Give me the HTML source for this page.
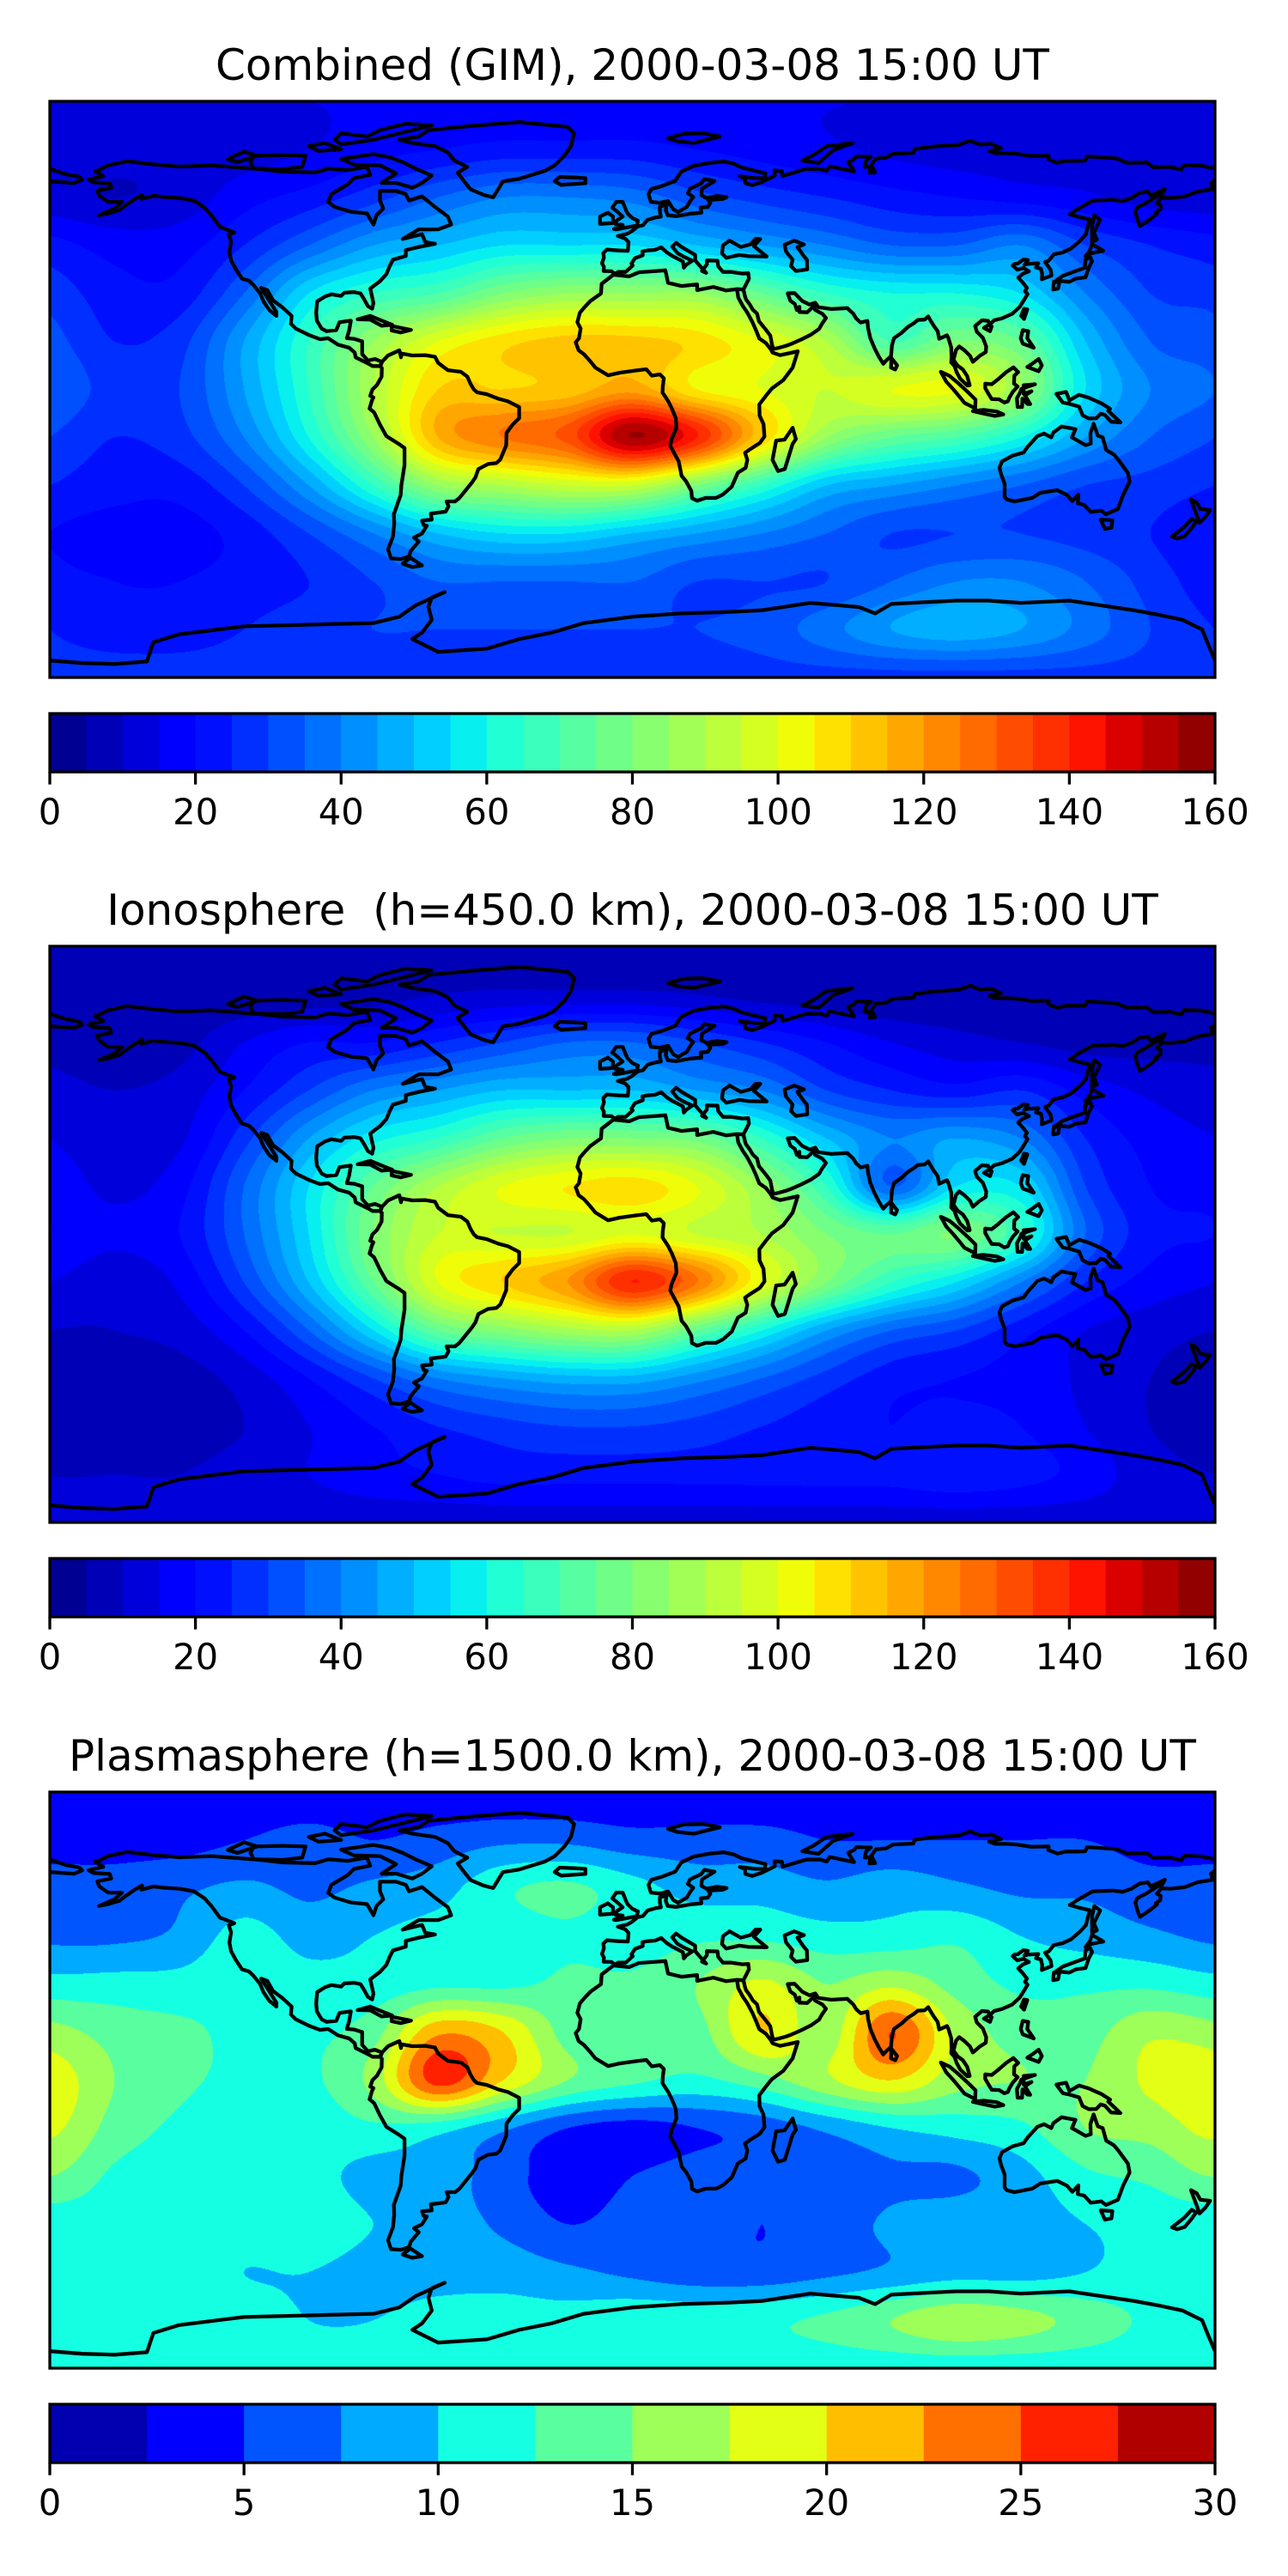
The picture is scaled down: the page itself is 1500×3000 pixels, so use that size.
<!DOCTYPE html>
<html><head><meta charset="utf-8"><title>TEC maps 2000-03-08 15:00 UT</title>
<style>
html,body{margin:0;padding:0;background:#fff;}
#root{position:relative;width:1500px;height:3000px;overflow:hidden;background:#fff;}
canvas{position:absolute;left:58px;width:1357px;height:671px;}
svg{position:absolute;left:0;top:0;}
text{font-family:"DejaVu Sans","Liberation Sans",sans-serif;fill:#000;white-space:pre;}
</style></head>
<body>
<div id="root">
<canvas id="c0" width="1357" height="671" style="top:118px"></canvas>
<canvas id="c1" width="1357" height="671" style="top:1102px"></canvas>
<canvas id="c2" width="1357" height="671" style="top:2087px"></canvas>
<svg id="ov" width="1500" height="3000" xmlns="http://www.w3.org/2000/svg">
<text x="736.5" y="93" text-anchor="middle" font-size="50">Combined (GIM), 2000-03-08 15:00 UT</text>
<text x="736.5" y="1077" text-anchor="middle" font-size="50">Ionosphere  (h=450.0 km), 2000-03-08 15:00 UT</text>
<text x="736.5" y="2062" text-anchor="middle" font-size="50">Plasmasphere (h=1500.0 km), 2000-03-08 15:00 UT</text>
</svg>
</div>
<script>
// ---- grid axes ----
const gridLons = [-180,-160,-140,-120,-100,-80,-60,-40,-20,0,20,40,60,80,100,120,140,160,180];
const gridLats = [90,75,60,45,30,15,0,-15,-30,-45,-60,-75,-90];

// ---- Combined (GIM) TECU ----
const combinedValues = [
[15,15,15,15,15,15,15,15,15,15,15,15,15,15,15,15,15,15,15],
[14,12,12,13,15,18,20,22,22,22,20,18,16,14,13,13,13,14,14],
[12,10,12,18,22,28,35,40,40,38,32,28,25,22,20,18,16,13,12],
[22,18,18,25,35,45,50,55,55,55,50,45,40,35,35,40,30,25,22],
[28,22,22,35,55,65,70,80,85,85,85,75,65,60,60,55,40,30,28],
[32,25,28,45,65,85,100,108,112,112,108,100,90,70,80,75,50,35,32],
[35,28,30,45,65,90,110,110,112,118,105,100,95,100,100,85,55,40,35],
[30,25,28,40,60,85,115,125,132,155,140,110,85,75,70,60,45,35,30],
[25,22,22,30,45,65,85,90,95,95,80,65,50,45,40,35,30,28,25],
[20,18,18,22,30,40,50,55,55,50,45,40,35,30,30,30,28,25,20],
[22,20,20,22,25,30,35,35,35,35,30,30,30,35,40,40,35,28,22],
[25,22,22,25,28,30,30,30,30,30,30,32,38,45,48,45,38,30,25],
[28,28,28,28,28,28,28,28,28,28,28,28,28,28,28,28,28,28,28]];

// ---- Ionosphere TECU ----
const ionosphereValues = [
[8,8,8,8,8,8,8,8,8,8,8,8,8,8,8,8,8,8,8],
[6,6,6,6,7,8,10,11,11,11,10,8,7,6,6,6,6,6,6],
[8,6,8,15,20,20,25,30,35,35,30,25,20,15,12,10,8,8,8],
[12,10,12,20,30,40,45,50,50,50,45,40,30,25,22,25,18,14,12],
[15,12,14,28,45,58,65,75,80,80,78,65,50,40,45,40,25,18,15],
[18,14,18,35,55,75,90,100,105,108,100,85,65,35,55,55,30,20,18],
[20,16,20,35,55,80,95,95,95,100,95,90,80,75,80,65,35,22,20],
[15,12,16,30,50,75,100,110,120,140,125,100,80,65,55,40,25,18,15],
[10,10,12,20,35,55,75,82,88,90,75,60,45,35,30,22,15,12,10],
[8,8,8,12,20,30,40,45,48,48,42,35,28,22,20,18,14,10,8],
[8,8,8,10,15,20,25,28,30,30,28,25,22,20,22,20,15,10,8],
[10,10,10,12,15,18,20,22,22,22,22,22,22,22,24,22,18,12,10],
[12,12,12,12,12,12,12,12,12,12,12,12,12,12,12,12,12,12,12]];

// ---- Plasmasphere TECU ----
const plasmasphereValues = [
[3,3,3,3,3,3,3,3,3,3,3,3,3,3,3,3,3,3,3],
[4,4,4,5,6,5,6,7,7,6,6,6,5,5,5,5,5,4,4],
[6,6,7,8,7,8,9,12,13,11,9,9,8,9,8,7,7,6,6],
[7,7,8,11,9,10,11,11,12,11,12,12,11,11,12,10,9,8,7],
[11,11,11,12,11,11,12,12,13,13,15,18,15,17,14,12,12,12,11],
[16,14,13,12,12,14,22,20,14,13,14,20,16,25,17,14,14,17,16],
[19,15,13,12,12,16,26,20,15,13,12,14,17,20,16,15,15,18,19],
[18,14,12,11,11,12,11,8,5,4,5,6,8,10,11,12,15,16,18],
[15,12,11,11,11,9,9,6,4,5,6,6,6,7,7,9,12,13,15],
[11,11,10,11,12,10,9,7,5,6,6,5,6,8,9,9,10,11,11],
[11,11,11,10,10,9,9,9,8,7,6,6,7,8,9,9,10,11,11],
[11,11,11,11,10,10,11,11,11,12,12,12,13,15,17,16,14,12,11],
[11,11,11,11,11,11,11,11,11,11,11,11,11,11,11,11,11,11,11]];

// ---- colour levels and colorbar ticks ----
const levelsGim = [0,5,10,15,20,25,30,35,40,45,50,55,60,65,70,75,80,85,90,95,100,105,110,115,120,125,130,135,140,145,150,155,160];
const levelsPlasma = [0,2.5,5,7.5,10,12.5,15,17.5,20,22.5,25,27.5,30];
const ticksGim = [0,20,40,60,80,100,120,140,160];
const ticksPlasma = [0,5,10,15,20,25,30];

// ---- coastlines [lon,lat] ----
const coastlines = [
[[-166,68],[-162,70],[-156,71.3],[-148,70.3],[-140,69.6],[-130,70],[-124,69.5],[-115,68.8],[-108,68],[-98,67.8],[-94,69],[-88,68.5],[-82,69.5],[-81,67],[-86,66],[-88,64],[-93,61],[-94,58.5],[-92,57],[-87,55.5],[-82,55],[-80,51.5],[-79,54.5],[-77,56.5],[-78,59],[-78,62],[-73,62],[-70,61],[-69,59],[-65,60.3],[-61,57],[-57,54],[-56,51.5],[-60,50],[-66,50],[-71,47],[-65,48.5],[-64,46],[-61,45.5],[-66,44.5],[-70,43.5],[-70,41.7],[-74,40.5],[-75,38.5],[-76,36],[-78,33.8],[-81,31.5],[-80,27],[-80.4,25.2],[-81.7,26],[-82.8,28],[-84,30],[-86,30.4],[-89,30.2],[-90,29.2],[-93,29.7],[-95,29],[-97.4,27.5],[-97.7,24],[-97.5,21.5],[-96,19],[-94.5,18.2],[-91.5,18.5],[-90.5,21],[-87,21.5],[-87.5,18.5],[-88.2,16],[-86,15.8],[-83.5,15],[-83.5,11],[-81.7,9],[-79.5,9.5],[-77.4,8.6],[-78,7.3],[-80.3,7.3],[-81.5,8],[-85.5,10],[-85.8,11.5],[-87.5,13],[-91,14],[-94,16],[-96.5,15.7],[-100,17],[-104,19],[-105.5,20.5],[-105.3,23],[-108,25.5],[-111,27.8],[-112.8,31],[-114.7,31.7],[-113,29],[-110,24.2],[-110,23],[-112.2,24.8],[-114,27.5],[-115,30],[-117,32.5],[-118.5,34],[-120.6,34.6],[-122.5,37.5],[-124,40.3],[-124.5,43],[-124,46.2],[-124.7,48.4],[-123,49],[-127.5,50.8],[-130,54.3],[-132.2,56.8],[-135.5,59],[-139.8,59.8],[-144.6,60.1],[-148,60.5],[-151.7,59.5],[-151.5,60.8],[-154,59.3],[-156.6,57.5],[-158.5,56],[-162,55],[-164.8,54.4],[-160,56.5],[-157.7,58.6],[-162,58.6],[-164.8,60.6],[-165.3,62.1],[-161,63],[-161.5,64.4],[-166.5,64.7],[-168,65.6],[-163.5,66.6],[-166,68.3]],
[[-72,78],[-66,79],[-63,81],[-50,82.3],[-35,83.5],[-20,82],[-18,80],[-19,76],[-21,73],[-24,70],[-27,68.3],[-35,65.8],[-40,65],[-43,60],[-46,60.8],[-50,62.5],[-52,65],[-54,67.7],[-51,69.5],[-55,71.5],[-57,74],[-61,76],[-68,77],[-72,78]],
[[-80,73.5],[-75,72.5],[-71,71],[-67,69],[-62,66.8],[-65,64.5],[-68,63],[-73,64.5],[-77.5,64.5],[-73,67.5],[-78,70],[-86,70.2],[-90,72],[-80,73.5]],
[[-118,71],[-117,73],[-108,73.2],[-101,73],[-102,69.5],[-108,68.8],[-117,69],[-118,71]],
[[-90,80],[-82,79],[-78,81],[-70,83],[-62,82.5],[-72,80],[-80,78],[-90,76.5],[-92,78],[-90,80]],
[[-125,71.9],[-120,74.3],[-116,73],[-122,71],[-125,71.9]],
[[-100,76],[-95,77],[-90,75],[-97,74.5],[-100,76]],
[[-84.9,21.9],[-81,23],[-77,21.3],[-74.2,20.2],[-77.5,19.9],[-81,21.8],[-84.9,21.9]],
[[-74.4,19.8],[-68.4,18.6],[-71.6,17.8],[-74.4,18.4],[-74.4,19.8]],
[[-77.3,8.7],[-75.5,10.6],[-72,12.2],[-71.5,10],[-71.3,11.2],[-68,10.6],[-64,10.7],[-61,10.2],[-60,8.3],[-57,6],[-53,5.5],[-51,4],[-50,1.7],[-49,0],[-48,-0.9],[-45,-1.5],[-41.5,-2.9],[-38.5,-3.7],[-35,-5.5],[-35,-9],[-37,-11],[-38.9,-13.6],[-39,-17.5],[-40.8,-21.9],[-42,-23],[-44.6,-23.3],[-47.6,-24.9],[-48.5,-27.5],[-49.5,-29],[-51.5,-31.5],[-53.5,-34],[-54.8,-35],[-57.4,-35],[-56.8,-36.5],[-57.7,-38.2],[-62.3,-38.8],[-62,-40.7],[-65,-41],[-64.5,-42.4],[-63.5,-42.6],[-65,-45],[-67.5,-46.3],[-66,-47.5],[-68.5,-50.5],[-69,-52.2],[-71.5,-53],[-74.6,-52.8],[-75.5,-50],[-74,-46],[-73.6,-42],[-73.7,-39],[-71.6,-33],[-71.4,-30],[-70.4,-23.6],[-70.4,-18.3],[-72.2,-17],[-76,-14.6],[-78,-11],[-79.8,-7.2],[-81.2,-6],[-80.5,-3.5],[-80,-2.5],[-81,-2],[-80.3,0],[-78.9,1.4],[-77.5,4],[-77.4,6.7],[-77.9,7.2],[-77.3,8.7]],
[[-68.6,-52.6],[-65,-55],[-68,-55.5],[-71,-54.5],[-68.6,-52.6]],
[[32.3,31.3],[29,30.9],[25,32],[20,31],[20,32.8],[15.2,32.3],[11,33.3],[10.2,37.2],[7.6,37],[2,36.6],[-1,35.3],[-5.9,35.8],[-9.5,33],[-9.7,30],[-13,27.6],[-14.5,26],[-16.2,24],[-17,21],[-16,19],[-16.5,16],[-17.5,14.7],[-16.6,12.2],[-15,11],[-13.2,9],[-11.4,6.8],[-7.5,4.4],[-4,5.2],[1,5.9],[4.3,6.3],[6,4.3],[8.5,4.7],[9.7,3.5],[9.4,1],[9.3,-1],[11,-3.6],[12.2,-6],[13.4,-9],[13.6,-12],[12.1,-15.6],[11.7,-17.6],[14.3,-22.5],[15.2,-27],[16.5,-28.6],[18.2,-31.7],[18.4,-34],[20,-34.8],[22.6,-33.9],[25.8,-33.9],[28,-32.8],[30.7,-30.4],[32.6,-26],[35,-24.5],[35.5,-22],[34.8,-19.8],[36.5,-18.6],[39.4,-16.7],[40.8,-14.7],[40.5,-10.8],[39.3,-8.2],[39.2,-4.7],[41.5,-1.7],[43.1,0.3],[46.6,2.9],[49.5,6.8],[51.1,11.9],[48.9,11.4],[45.6,10.7],[43.3,11.5],[42.7,12.6],[41.2,14.5],[39.2,15.9],[38.4,18],[37.1,21],[35.5,24],[34.1,26.1],[32.7,28.7],[32.3,31.3]],
[[49.5,-12],[50.5,-15.5],[49.5,-17],[47.1,-24.9],[45,-25.5],[43.3,-22],[44.4,-16],[47,-15.7],[49.5,-12]],
[[32.3,31.3],[34.3,31.2],[35.2,33],[36,34.6],[35.8,36.3],[34,36.2],[30.6,36.7],[28,36.7],[26.5,38.5],[26.3,40.2],[23,40.3],[23,39],[21.5,37],[22.8,36.4],[21.1,38.3],[19.4,40.3],[19.4,42],[15.2,44.5],[13.5,45.8],[12.3,44.6],[13.9,42.6],[16,41.4],[18.5,40.2],[16.6,38.9],[15.9,38],[15.6,40],[12.3,41.7],[10.5,42.9],[8.9,44.4],[7,43.6],[4.6,43.4],[3.1,43.1],[3.2,41.9],[0.8,41],[-0.3,39.3],[0.1,38.7],[-2.1,36.7],[-4.4,36.7],[-5.4,36.1],[-6.5,36.9],[-8.9,37],[-8.8,38.3],[-9.4,39.4],[-8.8,41.2],[-9,42.6],[-7.9,43.7],[-4.3,43.4],[-1.4,43.3],[-1.2,46],[-2.2,47.1],[-4.5,47.9],[-1.6,48.6],[-0.2,49.4],[1.6,50.9],[3.3,51.3],[4.7,53],[7.1,53.7],[8.8,54],[8.5,55.4],[8.5,57.1],[10.6,57.7],[10.3,56],[10.9,54.4],[13.6,54.1],[18,54.9],[21.3,55.2],[21.1,56.8],[23.3,57],[24.1,58.3],[23.4,59.2],[28,59.5],[29.1,60],[26.2,60.4],[22.9,59.8],[21.3,60.7],[21.5,62.7],[25.4,65.1],[22.2,65.7],[21.3,64.4],[17.8,62.7],[17.1,61.3],[18.8,60.1],[17.9,58.9],[16.8,57],[14.1,55.4],[12.6,56.3],[11,58.9],[8.4,58.3],[5.7,58.6],[5,61],[5.9,62.6],[9,63.5],[13.2,65.1],[15.1,68],[18.8,69.8],[23.6,70.7],[28.2,71.2],[31.3,70.5],[33.8,69.3],[41.1,67.5],[41,66],[38,66],[33.2,66.6],[34.8,65.9],[34.9,64.4],[37,63.8],[40,64.8],[44,66.8],[43.9,68.4],[46.2,68.2],[46.4,66.7],[53.7,68.9],[58,68.9],[60,68.3],[61,69.7],[68.5,68.1],[67.3,70],[66.7,71],[68.5,71.9],[69.2,72.8],[73.7,72.7],[72.2,71.5],[71.8,69.5],[73.6,69.6],[73.2,67.7],[75,67.8],[73.8,70.1],[75.2,72.1],[78.4,72.4],[80.5,73.6],[86.8,73.9],[87.2,75.1],[93.2,75.9],[100.8,76.4],[104.3,77.7],[107.2,76.5],[111,76.7],[113.9,75.3],[110.2,74.5],[112.1,73.8],[115.6,73.8],[118.8,73.6],[123.2,72.9],[128.6,73],[128.5,71.9],[131.3,70.8],[133.9,71.4],[137.5,71.4],[139.9,71.5],[140.5,72.8],[149.5,72.2],[152.9,70.8],[159,70.9],[160.9,69.4],[165.9,69.5],[169.6,68.7],[170.5,70.1],[175.7,69.9],[180,69]],
[[180,65.4],[178.7,64.5],[179.4,62.6],[174.6,61.8],[170.7,60.3],[166.3,59.8],[163.5,59.9],[162,58.2],[163.2,57.6],[163.1,56.2],[161.7,55.3],[162.1,54.9],[160,53.2],[158.2,51.9],[156.8,51],[156,53.2],[155.4,55.4],[155.9,56.8],[158.4,58.1],[161.9,60.3],[163.7,61.1],[164.5,62.6],[160.1,60.5],[159.3,61.8],[156.7,61.4],[154.2,59.8],[151.3,58.8],[148.5,59.2],[142.2,59],[138.9,57.1],[135.1,54.7],[138.2,53.8],[141.3,53.1],[140.5,50],[140.1,48.4],[138.2,46.3],[135.5,44],[132.9,42.8],[130.2,42.2],[128.6,40.2],[127.5,39.8],[129.2,37.4],[129.5,35.6],[126.5,34.4],[126.6,36],[126.2,37.7],[124.7,38.1],[125.4,39.4],[122.1,39.2],[121.1,38.9],[122.2,40.4],[120.8,40.6],[119,39.3],[118,39.2],[117.5,38.7],[118.9,37.4],[120.8,37.9],[122.5,36.9],[120.6,36.1],[119.2,34.9],[120.6,33.4],[121.9,31.7],[121.3,30.7],[122.1,29.8],[121.1,28.1],[119.6,25.7],[117.3,23.6],[114.2,22.2],[111.8,21.6],[110.4,20.3],[109.9,21.4],[108,21.6],[105.9,19.8],[106.4,18],[108.3,16.1],[109.3,13.4],[109.2,11.7],[107.2,10.4],[105.2,8.6],[104.3,10.5],[102.6,12.2],[100.98,13.4],[100,12.3],[99.2,9.2],[100.5,7.4],[102.1,6.2],[103.4,4.2],[103.9,2.5],[104.2,1.3],[103.5,1.2],[101.3,3.3],[100.2,5.3],[99.5,7.3],[98.5,8.4],[98.6,9.9],[98.5,13.1],[97.6,16.1],[97.2,16.9],[94.8,15.8],[94.3,18.2],[93.1,19.9],[92,21.7],[91.4,22.8],[90.3,21.8],[88.2,21.7],[87,20.7],[85.1,19.5],[83.2,17.7],[80.8,16],[80.2,13.8],[79.9,10.4],[78.3,8.9],[77.5,8],[76.1,10.3],[74.9,12.7],[73.5,16],[72.8,19.2],[72.6,21.4],[70.5,20.9],[69.2,22.1],[68.2,23.7],[67.1,24.7],[66.4,25.4],[61.5,25.1],[57.4,25.7],[56.5,27.1],[54.7,26.5],[52.5,27.6],[50.1,30.1],[48,29.98],[48.8,27.7],[50.2,26.7],[50.8,24.8],[51.6,25.8],[51.6,24.2],[54,24.1],[56.1,26.1],[56.4,24.9],[58.7,23.6],[59.8,22.3],[58.5,20.4],[57.7,18.9],[56.3,17.9],[55.3,17.2],[52.2,15.6],[49,14.2],[47.4,13.6],[45.1,12.95],[43.5,12.6],[43.1,14.1],[42.6,16.8],[41.2,18.7],[39.1,21.3],[38.5,23.7],[37.2,24.9],[36.2,26.6],[35.1,28.1],[34.8,29],[34.3,31.2]],
[[-5,50],[1.4,51.2],[1.7,52.7],[0,53.5],[-1.5,55],[-2,56],[-3,58.6],[-5,58.6],[-6.2,56.8],[-5,55.8],[-3,54],[-4.8,52.8],[-5.3,51.7],[-3,51.4],[-5.7,50.1],[-5,50]],
[[-6,52],[-6,54],[-7.6,55.2],[-10,54],[-10,51.7],[-6,52]],
[[-22,63.9],[-14.5,64.4],[-14.5,66],[-18,66.2],[-22.5,66.4],[-24,65],[-22,63.9]],
[[130.9,34],[135,33.6],[137,34.6],[140,35],[141,38],[142,40],[141.4,41.4],[140,40.5],[139.8,38],[137,37],[133,35.5],[130.9,34]],
[[140,41.6],[141.5,42.5],[144,43],[145.5,43.3],[142,45.4],[141.3,43.3],[140,41.6]],
[[130,31.2],[131.5,31.5],[131.9,33.5],[130.2,33.6],[130,31.2]],
[[142,46],[143.5,46.8],[142.6,49],[144.5,53],[142.7,54.4],[142,51],[142,46]],
[[120.1,23],[121,22],[122,25],[121,25.2],[120.1,23]],
[[108.6,19.2],[110.5,18.2],[111,19.7],[110,20.1],[108.6,19.2]],
[[120.6,18.5],[122.3,18.2],[122,16],[124,13],[122,13.8],[120.6,14.3],[120,16],[120.6,18.5]],
[[122,7],[125.5,5.7],[126.5,7.5],[125.5,9.5],[123.5,8],[122,7]],
[[95.3,5.5],[98,4.2],[100.6,2],[103.8,-1],[106,-3.2],[105.9,-5.9],[102.6,-4.2],[101,-2.2],[99,0.2],[97,2.4],[95.3,5.5]],
[[105.2,-6.8],[108.5,-6.4],[112.6,-6.9],[114.6,-7.8],[112,-8.3],[108.7,-7.6],[105.2,-6.8]],
[[109,1.8],[111,1.6],[112.9,3.1],[115.5,5.4],[117.7,6.9],[119.2,5.4],[118,4.3],[117.9,1.8],[119,0.9],[117.5,-0.8],[116.5,-2.5],[116,-3.7],[114.9,-4.1],[113.3,-3.1],[111,-3],[110.2,-1.7],[109,0.4],[109,1.8]],
[[119,-5.5],[120.4,-5.5],[120.5,-2.9],[122,-4.5],[122.9,-4.6],[121.3,-1.9],[123.3,-0.6],[120.9,-1.4],[120.9,1.3],[124.4,1.6],[120.2,0.2],[119.8,-0.9],[118.8,-2.8],[119,-5.5]],
[[131,-1.4],[134,-0.8],[135,-3.4],[138,-1.7],[141,-2.6],[145,-4.4],[147.6,-6.1],[147,-6.7],[150.8,-10.3],[147.9,-10.1],[146,-8],[144.7,-7.6],[143.3,-9],[141,-9.1],[139.1,-8.1],[138,-5.4],[135,-4.5],[133,-4.1],[132,-2.8],[131,-1.4]],
[[114.2,-22.5],[113.4,-24.4],[113.9,-26.5],[115,-29.5],[115,-33.6],[115.7,-34.4],[118,-35],[123.5,-33.9],[126,-32.3],[131.3,-31.5],[134.3,-33],[135.9,-34.9],[137.8,-32.9],[137.6,-35.6],[139.6,-36.1],[141.6,-38.3],[144.9,-37.9],[146.3,-39],[150,-37.4],[151.6,-33],[153.6,-28.9],[153.1,-26.1],[150.3,-22.2],[148.8,-20.4],[146.4,-18.9],[145.3,-15],[143.8,-14.4],[142.5,-10.7],[141.5,-13.7],[141.6,-16.9],[140,-17.4],[135.8,-15],[136.9,-12.4],[132.6,-11.6],[130.1,-13.4],[129.4,-15],[127.2,-13.8],[125.1,-14.6],[122.2,-17.8],[120.9,-19.7],[117.4,-20.7],[114.2,-22.5]],
[[144.7,-40.7],[148.3,-40.9],[148,-43.2],[146,-43.6],[144.7,-40.7]],
[[172.6,-34.4],[174.3,-35.3],[175.5,-37.4],[178.5,-37.7],[177,-39.9],[175.2,-41.7],[174.6,-39.9],[172.6,-34.4]],
[[172.8,-40.5],[174.2,-41.3],[172.7,-43.4],[170.6,-45.9],[168.3,-46.6],[166.7,-46],[170.5,-43],[172.8,-40.5]],
[[79.9,6.8],[80,9.8],[81.8,7.5],[81.2,6.2],[79.9,6.8]],
[[52.5,71.5],[56,73.3],[60,76],[68,76.9],[62,74.7],[57.5,70.7],[52.5,71.5]],
[[11,78.5],[16,79.9],[22,80],[27,79],[19,77],[14,77.5],[11,78.5]],
[[-180,68.9],[-175,67.2],[-171,66.5],[-170,65.5],[-172.5,64.5],[-180,65]],
[[27.7,42.5],[28,45],[30,46.5],[33.5,44.5],[36.5,45.3],[38,47],[39.5,47],[37.5,44.8],[41.5,41.5],[36,41.6],[33,42],[29,41.1],[27.7,42.5]],
[[47,45.2],[50,46.5],[53,45.3],[51,44.5],[52.7,42],[53.9,40.5],[54,37.5],[50.5,37],[49,38.5],[49.5,40.5],[47.5,43],[47,45.2]],
[[-180,-84.7],[-170,-85.5],[-160,-85.8],[-150,-85],[-148,-79],[-140,-76.5],[-120,-74],[-100,-73.5],[-80,-73],[-72,-71],[-67,-67.5],[-58,-63.3],[-62,-65],[-63,-68],[-62,-72],[-65,-76],[-68,-78],[-60,-82],[-45,-81],[-35,-78],[-25,-76],[-15,-73],[0,-71],[15,-70],[30,-69.5],[40,-69],[55,-66.7],[70,-68],[75,-70],[80,-67],[90,-66.5],[100,-66],[110,-66],[120,-66.7],[135,-66],[145,-67.5],[155,-69],[163,-70.5],[170,-72],[176,-75],[178,-80],[180,-84.7]]
];

// ---- layout ----
const MAP_L = 58, MAP_W = 1357, MAP_H = 671;
const panelTops = [118, 1102, 2087];
const CB_GAP = 42, CB_H = 68;

function xScale(lon){ return MAP_L + (lon + 180) / 360 * MAP_W; }
function yScale(lat, top){ return top + (90 - lat) / 180 * MAP_H; }

// matplotlib "jet" segment data
const JET = {
  r: [[0,0],[0.35,0],[0.66,1],[0.89,1],[1,0.5]],
  g: [[0,0],[0.125,0],[0.375,1],[0.64,1],[0.91,0],[1,0]],
  b: [[0,0.5],[0.11,1],[0.34,1],[0.65,0],[1,0]]
};
function seg(s, x){
  for (let i = 1; i < s.length; i++){
    if (x <= s[i][0]){ const t = (x - s[i-1][0])/(s[i][0]-s[i-1][0]); return s[i-1][1] + t*(s[i][1]-s[i-1][1]); }
  }
  return s[s.length-1][1];
}
function jet(x){ return [Math.round(255*seg(JET.r,x)), Math.round(255*seg(JET.g,x)), Math.round(255*seg(JET.b,x))]; }
function levelColor(i, n){ const c = jet((i+0.5)/n); return 'rgb('+c[0]+','+c[1]+','+c[2]+')'; }

function cr(p0,p1,p2,p3,t){
  return p1 + 0.5*t*(p2-p0 + t*(2*p0-5*p1+4*p2-p3 + t*(3*(p1-p2)+p3-p0)));
}

function drawField(canvasId, values, levels){
  const cv = document.getElementById(canvasId);
  const ctx = cv.getContext('2d');
  const img = ctx.createImageData(MAP_W, MAP_H);
  const n = levels.length - 1;
  const lo = levels[0], step = levels[1] - levels[0];
  const cols = gridLons.length - 1;
  const lonStep = gridLons[1] - gridLons[0];
  const latStep = gridLats[0] - gridLats[1];
  const nr = gridLats.length;
  const table = [];
  for (let i = 0; i < n; i++) table.push(jet((i+0.5)/n));
  const colIdx = [], colT = [];
  for (let x = 0; x < MAP_W; x++){
    const lon = -180 + (x+0.5)/MAP_W*360;
    const g = (lon - gridLons[0]) / lonStep;
    const i1 = Math.floor(g);
    colIdx.push(i1); colT.push(g - i1);
  }
  const wrap = i => ((i % cols) + cols) % cols;
  const clampR = j => Math.max(0, Math.min(nr-1, j));
  for (let y = 0; y < MAP_H; y++){
    const lat = 90 - (y+0.5)/MAP_H*180;
    const g = (gridLats[0] - lat) / latStep;
    const j1 = Math.floor(g), ty = g - j1;
    const r0 = values[clampR(j1-1)], r1 = values[clampR(j1)], r2 = values[clampR(j1+1)], r3 = values[clampR(j1+2)];
    for (let x = 0; x < MAP_W; x++){
      const i1 = colIdx[x], tx = colT[x];
      const a = wrap(i1-1), b = wrap(i1), c = wrap(i1+1), d = wrap(i1+2);
      const v0 = cr(r0[a],r0[b],r0[c],r0[d],tx);
      const v1 = cr(r1[a],r1[b],r1[c],r1[d],tx);
      const v2 = cr(r2[a],r2[b],r2[c],r2[d],tx);
      const v3 = cr(r3[a],r3[b],r3[c],r3[d],tx);
      const v = cr(v0,v1,v2,v3,ty);
      let k = Math.floor((v - lo)/step);
      if (k < 0) k = 0; if (k > n-1) k = n-1;
      const col = table[k], o = (y*MAP_W + x)*4;
      img.data[o] = col[0]; img.data[o+1] = col[1]; img.data[o+2] = col[2]; img.data[o+3] = 255;
    }
  }
  ctx.putImageData(img, 0, 0);
}

const NS = 'http://www.w3.org/2000/svg';
const ov = document.getElementById('ov');
function mk(tag, attrs){ const e = document.createElementNS(NS, tag); for (const k in attrs) e.setAttribute(k, attrs[k]); return e; }

function drawOverlay(p, top, levels, ticks){
  const defs = mk('defs', {});
  const cp = mk('clipPath', {id: 'clip'+p});
  cp.appendChild(mk('rect', {x: MAP_L, y: top, width: MAP_W, height: MAP_H}));
  defs.appendChild(cp); ov.appendChild(defs);
  const g = mk('g', {'clip-path': 'url(#clip'+p+')'});
  
  
  coastlines.forEach(poly => {
    const pts = poly.map(q => xScale(q[0]).toFixed(1)+','+yScale(q[1], top).toFixed(1)).join(' ');
    const pl = mk('polyline', {points: pts, fill: 'none', stroke: '#000', 'stroke-width': 4.3, 'stroke-linejoin': 'round', 'stroke-linecap': 'round'});
    
    
    g.appendChild(pl);
  });
  ov.appendChild(g);
  const frame = mk('rect', {x: MAP_L, y: top, width: MAP_W, height: MAP_H, fill: 'none', stroke: '#000', 'stroke-width': 3.3});
  
  
  ov.appendChild(frame);
  const cbTop = top + MAP_H + CB_GAP;
  const vmin = levels[0], vmax = levels[levels.length-1];
  const cx = v => MAP_L + (v - vmin)/(vmax - vmin)*MAP_W;
  const cbg = mk('g', {});
  
  
  const n = levels.length - 1;
  for (let i = 0; i < n; i++){
    const x0 = cx(levels[i]), x1 = cx(levels[i+1]);
    const r = mk('rect', {x: x0.toFixed(2), y: cbTop, width: (x1 - x0 + 0.6).toFixed(2), height: CB_H, fill: levelColor(i, n)});
    
    
    cbg.appendChild(r);
  }
  const cbf = mk('rect', {x: MAP_L, y: cbTop, width: MAP_W, height: CB_H, fill: 'none', stroke: '#000', 'stroke-width': 3.3});
  
  
  cbg.appendChild(cbf);
  ticks.forEach(t => {
    const x = cx(t);
    const tl = mk('line', {x1: x, x2: x, y1: cbTop + CB_H, y2: cbTop + CB_H + 14.6, stroke: '#000', 'stroke-width': 3.3});
    
    
    cbg.appendChild(tl);
    const tx = mk('text', {x: x, y: cbTop + CB_H + 61, 'text-anchor': 'middle', 'font-size': 41.7});
    tx.textContent = String(t);
    
    
    cbg.appendChild(tx);
  });
  ov.appendChild(cbg);
}

drawField('c0', combinedValues, levelsGim);
drawField('c1', ionosphereValues, levelsGim);
drawField('c2', plasmasphereValues, levelsPlasma);
drawOverlay(0, panelTops[0], levelsGim, ticksGim);
drawOverlay(1, panelTops[1], levelsGim, ticksGim);
drawOverlay(2, panelTops[2], levelsPlasma, ticksPlasma);
</script>
</body></html>
